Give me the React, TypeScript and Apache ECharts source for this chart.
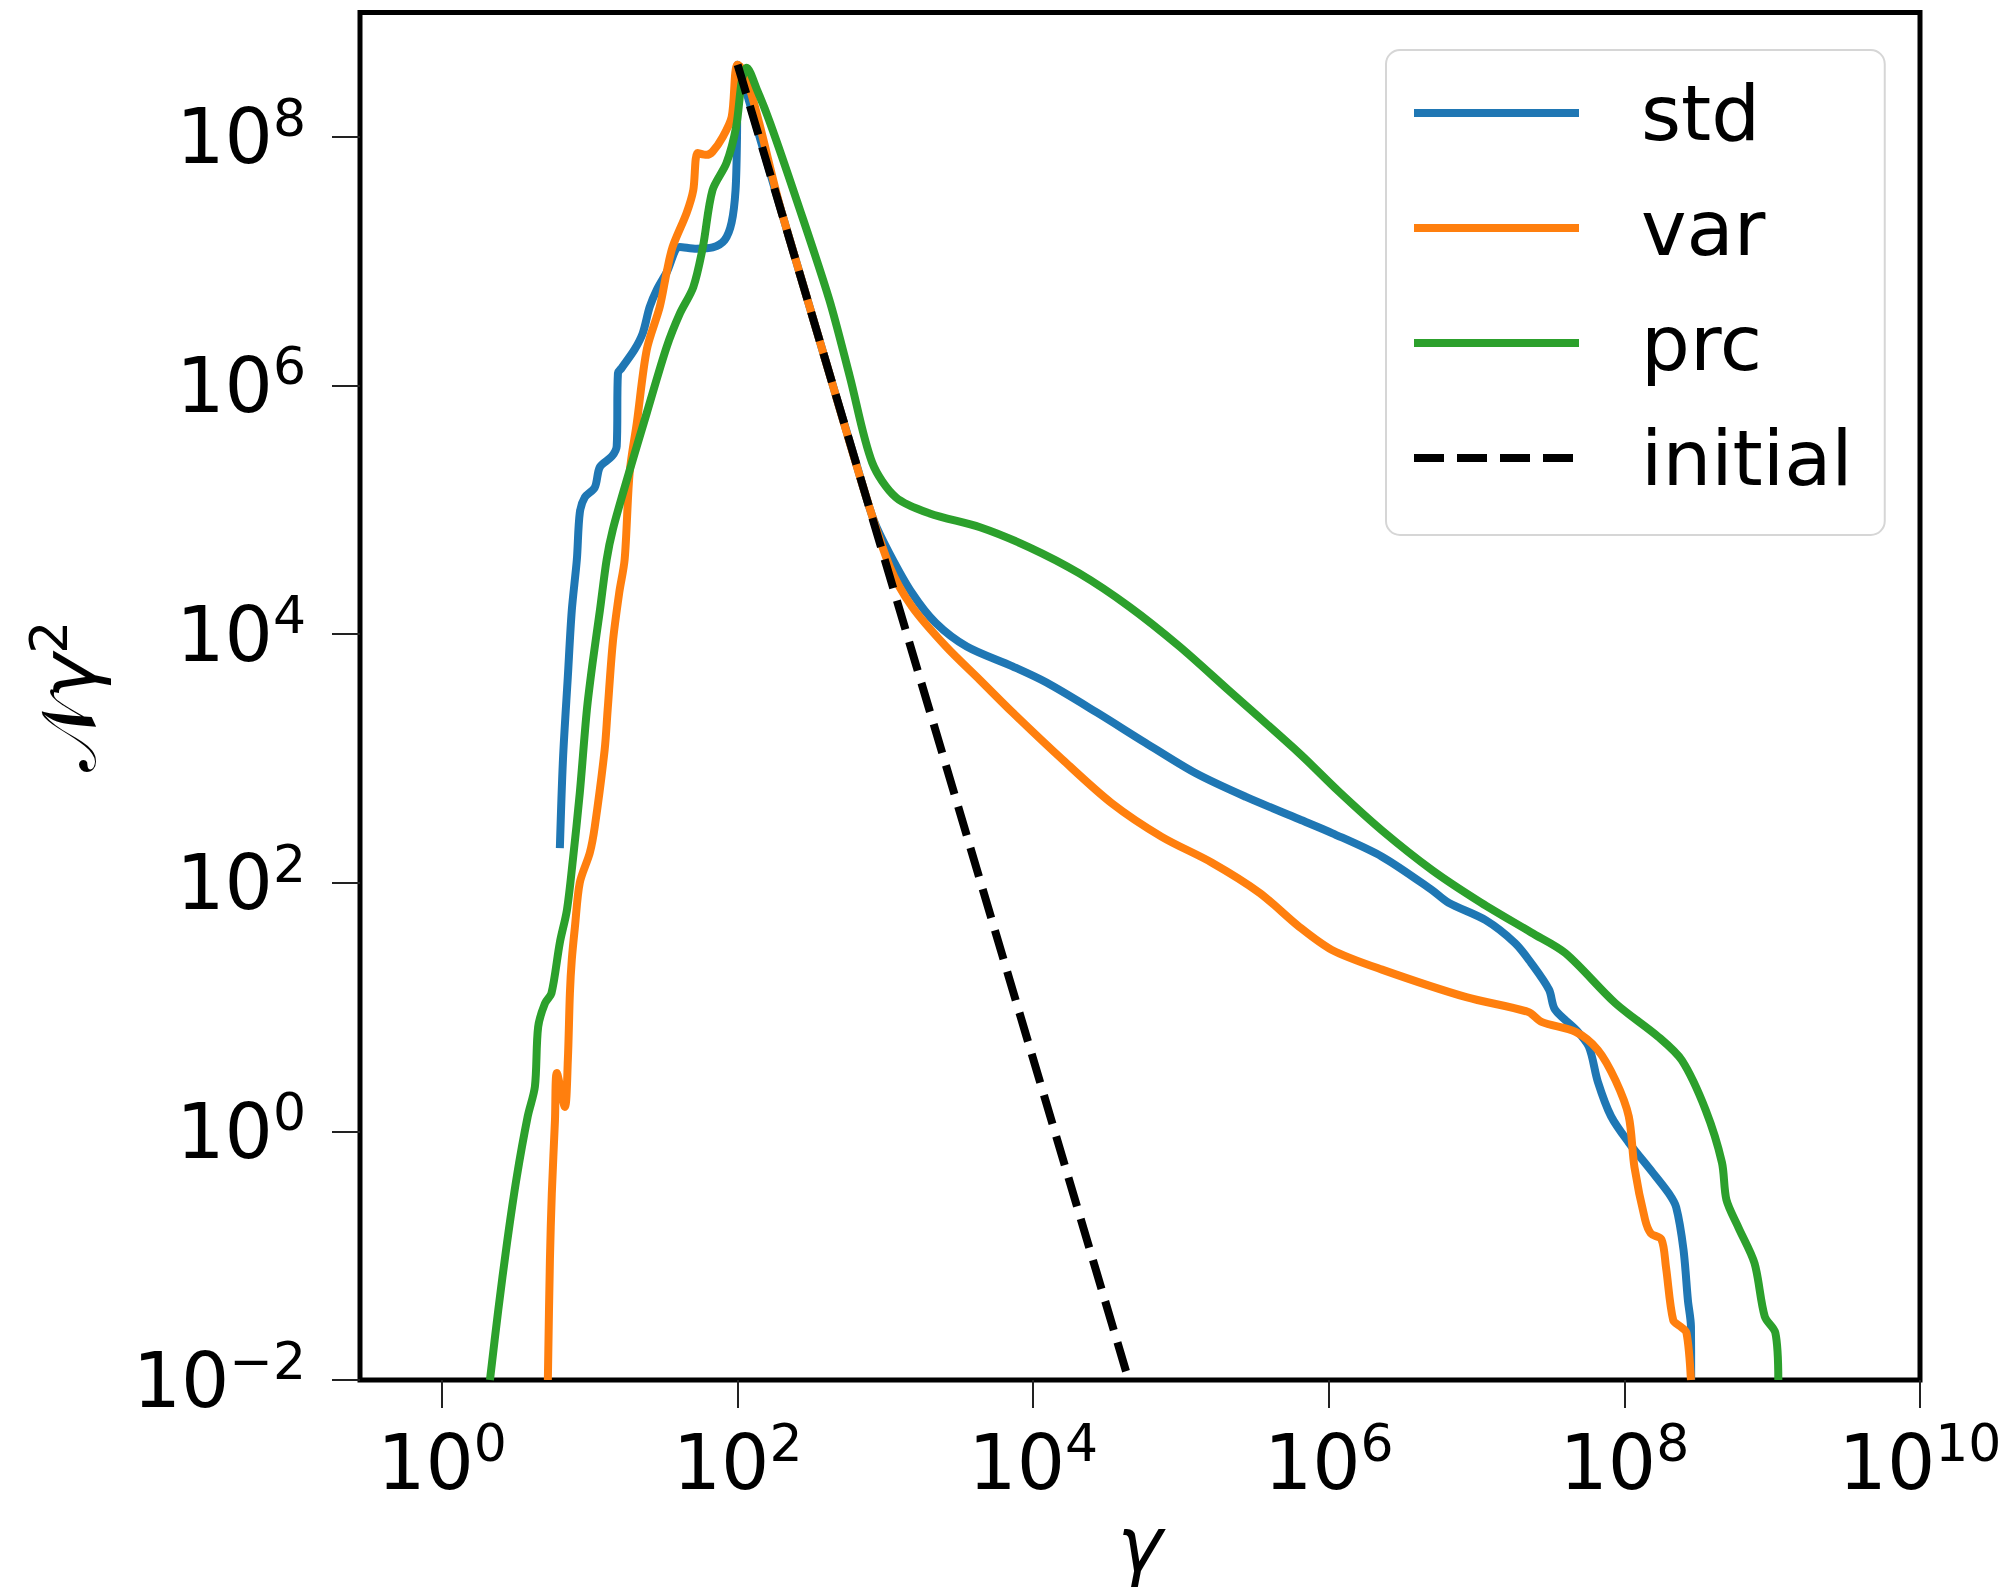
import React, { useEffect, useRef } from 'react';
import * as echarts from 'echarts';

const seriesNames = ['std', 'var', 'prc', 'initial'];
const seriesColors = ['#1f77b4', '#ff7f0e', '#2ca02c', '#000000'];

const stdGamma = [6.27, 6.58, 7.10, 7.55, 8.17, 8.55, 9.25, 10.8, 11.7, 14.1, 15.2, 15.5, 16.4, 20.1, 22.8, 25.4, 28.4, 33.1, 40.6, 52.8, 67.8, 81.7, 91.0, 96.8, 99.0, 100, 200, 398, 631, 832, 1064, 1514, 2188, 3548, 7244, 1.23e4, 2.69e4, 5.75e4, 1.26e5, 2.75e5, 6.31e5, 1.05e6, 2.29e6, 5.01e6, 6.46e6, 1.15e7, 1.82e7, 2.34e7, 3.09e7, 3.39e7, 4.68e7, 5.75e7, 6.61e7, 8.13e7, 1.07e8, 1.55e8, 2.0e8, 2.24e8, 2.51e8, 2.69e8, 2.82e8, 2.83e8];
const stdN = [190, 977, 4570, 1.55e4, 3.98e4, 9.44e4, 1.26e5, 1.51e5, 2.21e5, 2.69e5, 3.24e5, 1.26e6, 1.38e6, 1.95e6, 2.63e6, 4.27e6, 5.89e6, 8.13e6, 1.30e7, 1.26e7, 1.29e7, 1.48e7, 2.04e7, 3.72e7, 9.55e7, 3.8e8, 2.4e7, 1.51e6, 2.4e5, 8.3e4, 4.47e4, 2.14e4, 1.23e4, 7943, 5495, 4074, 2344, 1334, 759, 490, 324, 251, 162, 87, 69, 50, 32.7, 22.6, 13.8, 9.55, 6.61, 4.79, 2.51, 1.32, 0.813, 0.468, 0.316, 0.245, 0.112, 0.0437, 0.0269, 0.01];

const varGamma = [5.2, 5.37, 5.53, 5.81, 5.98, 6.78, 7.10, 7.33, 7.55, 7.93, 8.55, 10, 10.8, 12.6, 13.2, 14.3, 15.8, 17.2, 18.6, 20.8, 24.3, 29.7, 33.1, 36.3, 45.2, 50.1, 53.7, 61.7, 67.6, 79.4, 91.2, 100, 200, 398, 708, 1072, 1514, 2570, 4365, 7244, 1.58e4, 3.39e4, 7.41e4, 1.62e5, 3.39e5, 6.31e5, 1.05e6, 2.29e6, 8.51e6, 2.24e7, 2.75e7, 4.68e7, 6.61e7, 8.71e7, 1.07e8, 1.17e8, 1.38e8, 1.51e8, 1.78e8, 1.91e8, 2.14e8, 2.40e8, 2.63e8, 2.82e8];
const varN = [0.01, 0.0923, 0.316, 1.23, 2.95, 1.57, 3.75, 12.9, 24, 44.2, 100, 174, 282, 1175, 2455, 8511, 2.14e4, 3.98e4, 2.0e5, 5.01e5, 1.95e6, 4.27e6, 8.13e6, 1.30e7, 2.45e7, 3.72e7, 7.41e7, 7.16e7, 7.59e7, 1.0e8, 1.45e8, 3.8e8, 2.4e7, 1.51e6, 1.51e5, 3.47e4, 1.66e4, 7943, 4266, 2344, 977, 437, 234, 145, 83.2, 44.2, 28.8, 20, 12, 9.12, 7.59, 6.31, 4.52, 2.57, 1.32, 0.513, 0.195, 0.151, 0.135, 0.0813, 0.0302, 0.0269, 0.024, 0.01];

const prcGamma = [2.11, 2.40, 2.75, 3.20, 3.80, 4.25, 4.47, 4.97, 5.50, 6.27, 7.0, 7.67, 8.55, 9.55, 10.5, 11.7, 13.0, 14.3, 17.8, 24.3, 33.1, 40.7, 50.1, 58.2, 67.6, 84.1, 97.7, 107, 115, 135, 166, 251, 417, 575, 813, 1175, 1995, 4365, 9333, 2.04e4, 4.47e4, 9.77e4, 2.09e5, 6.31e5, 1.17e6, 2.29e6, 5.01e6, 1.07e7, 2.34e7, 3.98e7, 8.71e7, 1.70e8, 2.45e8, 3.55e8, 4.57e8, 4.90e8, 5.89e8, 7.59e8, 8.91e8, 1.05e9, 1.10e9];
const prcN = [0.01, 0.0363, 0.126, 0.427, 1.32, 2.29, 6.92, 10.7, 12.9, 33.1, 60.3, 151, 525, 2455, 6166, 1.55e4, 3.98e4, 6.92e4, 1.74e5, 6.03e5, 2.04e6, 3.8e6, 6.17e6, 1.30e7, 3.72e7, 6.17e7, 1.20e8, 2.88e8, 3.59e8, 2.40e8, 1.29e8, 3.09e7, 4.9e6, 1.17e6, 2.4e5, 1.26e5, 9.33e4, 7.24e4, 5.01e4, 3.09e4, 1.66e4, 7943, 3548, 1100, 540, 263, 126, 69.2, 39.8, 27.2, 10.7, 5.75, 3.72, 1.48, 0.562, 0.282, 0.17, 0.0871, 0.0324, 0.024, 0.01];

const initialGamma = [100, 4.42e4];
const initialN = [3.8e8, 0.01];

const xTickValues = [1, 1e2, 1e4, 1e6, 1e8, 1e10];
const yTickValues = [1e-2, 1, 1e2, 1e4, 1e6, 1e8];

const FONT = "'DejaVu Sans', sans-serif";

function expLabel(v: number): string {
  const e = Math.round(Math.log10(v));
  const s = e < 0 ? '\u2212' + String(-e) : String(e);
  return `{b|10}{s|${s}}`;
}

const labelRich = {
  b: { fontSize: 76, lineHeight: 90, fontFamily: FONT, color: '#000' },
  s: { fontSize: 52, lineHeight: 52, verticalAlign: 'top', fontFamily: FONT, color: '#000' },
};

function pairs(xs: number[], ys: number[]): number[][] {
  return xs.map((x, i) => [x, ys[i]]);
}

export default function App() {
  const ref = useRef<HTMLDivElement>(null);
  useEffect(() => {
    if (!ref.current) return;
    const chart = echarts.init(ref.current, undefined, { renderer: 'svg' });
    const datasets = [
      pairs(stdGamma, stdN),
      pairs(varGamma, varN),
      pairs(prcGamma, prcN),
      pairs(initialGamma, initialN),
    ];
    const series = seriesNames.map((name, i) => ({
      name,
      type: 'line',
      data: datasets[i],
      symbol: 'none',
      showSymbol: false,
      smooth: i === 3 ? false : 0.3,
      clip: true,
      z: i === 3 ? 5 : 2 + i,
      itemStyle: { color: seriesColors[i] },
      lineStyle: {
        color: seriesColors[i],
        width: 8,
        type: i === 3 ? [30, 13] : 'solid',
        join: 'round',
      },
    }));
    const option: any = {
      animation: false,
      backgroundColor: '#ffffff',
      grid: {
        left: 360,
        right: 93,
        top: 12.5,
        bottom: 212,
        show: true,
        borderColor: '#000',
        borderWidth: 5,
        backgroundColor: 'transparent',
      },
      xAxis: {
        type: 'log',
        logBase: 10,
        min: 0.2786,
        max: 1e10,
        name: '{g|γ}',
        nameLocation: 'middle',
        nameGap: 119,
        nameTextStyle: {
          rich: { g: { fontSize: 76, lineHeight: 90, fontStyle: 'italic', fontFamily: FONT, color: '#000' } },
        },
        axisLine: { show: false },
        axisTick: { show: true, length: 28, customValues: xTickValues, lineStyle: { color: '#222', width: 2 } },
        minorTick: { show: false },
        splitLine: { show: false },
        axisLabel: { customValues: xTickValues, formatter: expLabel, margin: 37, rich: labelRich },
      },
      yAxis: {
        type: 'log',
        logBase: 10,
        min: 0.01,
        max: 1e9,
        name: '{n|𝒩}{g|γ}{s|2}',
        nameLocation: 'middle',
        nameGap: 247,
        nameTextStyle: {
          rich: {
            n: { fontSize: 76, lineHeight: 90, fontFamily: FONT, color: '#000' },
            g: { fontSize: 76, lineHeight: 90, fontStyle: 'italic', fontFamily: FONT, color: '#000' },
            s: { fontSize: 52, lineHeight: 52, verticalAlign: 'top', fontFamily: FONT, color: '#000' },
          },
        },
        axisLine: { show: false },
        axisTick: { show: true, length: 28, customValues: yTickValues, lineStyle: { color: '#222', width: 2 } },
        minorTick: { show: false },
        splitLine: { show: false },
        axisLabel: { customValues: yTickValues, formatter: expLabel, margin: 54, rich: labelRich },
      },
      legend: {
        orient: 'vertical',
        left: 1386,
        top: 50,
        padding: [17, 32, 31, 24],
        itemWidth: 165,
        itemHeight: 8,
        itemGap: 23,
        backgroundColor: 'rgba(255,255,255,0.8)',
        borderColor: '#d6d6d6',
        borderWidth: 2,
        borderRadius: 14,
        itemStyle: { opacity: 0 },
        lineStyle: { width: 8 },
        textStyle: { fontSize: 77, lineHeight: 92, fontFamily: FONT, color: '#000', padding: [0, 0, 0, 57] },
        data: seriesNames,
      },
      series,
    };
    chart.setOption(option);
    return () => chart.dispose();
  }, []);
  return (
    <div
      ref={ref}
      style={{ position: 'absolute', left: 0, top: 0, width: '2013px', height: '1592px', background: '#fff' }}
    />
  );
}
